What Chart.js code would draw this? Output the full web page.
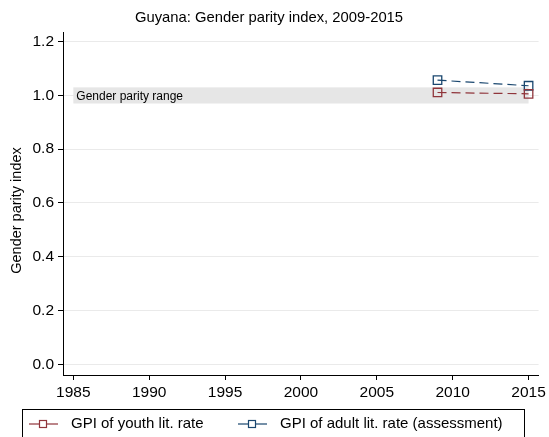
<!DOCTYPE html>
<html>
<head>
<meta charset="utf-8">
<script src="https://cdn.jsdelivr.net/npm/chart.js@4/dist/chart.umd.min.js"></script>
<style>
html,body{margin:0;padding:0;background:#fff;}
#wrap{width:549px;height:437px;position:relative;}
</style>
</head>
<body>
<div id="wrap"><canvas id="c" width="549" height="437"></canvas></div>
<script>
const chartTitle = "Guyana: Gender parity index, 2009-2015";
const yAxisTitle = "Gender parity index";
const years = [2009, 2015];
const youthGPI = [1.011, 1.006];
const adultGPI = [1.057, 1.036];
const seriesNames = ["GPI of youth lit. rate", "GPI of adult lit. rate (assessment)"];
const seriesColors = ["#90353b", "#1a476f"];
const yTicks = [0.0, 0.2, 0.4, 0.6, 0.8, 1.0, 1.2];
const xTicks = [1985, 1990, 1995, 2000, 2005, 2010, 2015];
const parityBand = {from: 1985, to: 2015, low: 0.97, high: 1.03, label: "Gender parity range"};

const FONT = "'Liberation Sans', Arial, sans-serif";

const decor = {
  id: 'decor',
  beforeDatasetsDraw(chart) {
    const {ctx, scales: {x, y}} = chart;
    ctx.save();
    const x0 = x.getPixelForValue(parityBand.from), x1 = x.getPixelForValue(parityBand.to);
    const y0 = y.getPixelForValue(parityBand.high), y1 = y.getPixelForValue(parityBand.low);
    ctx.fillStyle = '#e6e6e6';
    ctx.fillRect(x0, y0, x1 - x0, y1 - y0);
    ctx.fillStyle = '#000';
    ctx.font = "12px " + FONT;
    ctx.textBaseline = 'middle';
    ctx.textAlign = 'left';
    ctx.fillText(parityBand.label, x0 + 3, (y0 + y1) / 2 + 1);
    ctx.restore();
  },
  afterDraw(chart) {
    const {ctx, chartArea} = chart;
    ctx.save();
    ctx.fillStyle = '#000';
    ctx.font = "14.8px " + FONT;
    ctx.textAlign = 'center';
    ctx.textBaseline = 'middle';
    ctx.fillText(chartTitle, 269, 18);
    // y axis title
    ctx.save();
    ctx.font = "14.5px " + FONT;
    ctx.translate(17, (chartArea.top + chartArea.bottom) / 2 + 7);
    ctx.rotate(-Math.PI / 2);
    ctx.fillText(yAxisTitle, 0, 0);
    ctx.restore();
    // legend
    ctx.strokeStyle = '#000';
    ctx.lineWidth = 1;
    ctx.strokeRect(22.5, 409.5, 502, 40);
    const items = [{x: 29, tx: 71}, {x: 238, tx: 280}];
    const ly = 424;
    items.forEach((it, i) => {
      ctx.strokeStyle = seriesColors[i];
      ctx.lineWidth = 1.2;
      ctx.beginPath();
      ctx.moveTo(it.x, ly); ctx.lineTo(it.x + 29, ly);
      ctx.stroke();
      ctx.fillStyle = '#fff';
      ctx.fillRect(it.x + 10, ly - 4, 8, 8);
      ctx.strokeRect(it.x + 10.5, ly - 3.5, 7, 7);
      ctx.fillStyle = '#000';
      ctx.font = "15px " + FONT;
      ctx.textAlign = 'left';
      ctx.fillText(seriesNames[i], it.tx, ly);
    });
    ctx.restore();
  }
};

function mk(vals) { return years.map((yr, i) => ({x: yr, y: vals[i]})); }

new Chart(document.getElementById('c'), {
  type: 'line',
  data: {
    datasets: [
      {label: seriesNames[0], data: mk(youthGPI), borderColor: seriesColors[0], backgroundColor: 'rgba(0,0,0,0)',
       borderWidth: 1.2, borderDash: [9, 5], pointStyle: 'rect', pointRadius: 6, pointBorderWidth: 1.3,
       pointBorderColor: seriesColors[0], pointBackgroundColor: 'rgba(0,0,0,0)', tension: 0},
      {label: seriesNames[1], data: mk(adultGPI), borderColor: seriesColors[1], backgroundColor: 'rgba(0,0,0,0)',
       borderWidth: 1.2, borderDash: [9, 5], pointStyle: 'rect', pointRadius: 6, pointBorderWidth: 1.3,
       pointBorderColor: seriesColors[1], pointBackgroundColor: 'rgba(0,0,0,0)', tension: 0}
    ]
  },
  options: {
    responsive: false,
    animation: false,
    layout: {padding: {left: 0, right: 9, top: 32, bottom: 0}},
    plugins: {legend: {display: false}, title: {display: false}, tooltip: {enabled: false}},
    scales: {
      x: {
        type: 'linear', min: 1984.32, max: 2015.66,
        afterBuildTicks(s) { s.ticks = xTicks.map(v => ({value: v})); },
        afterFit(s) { s.height = 62; },
        grid: {drawOnChartArea: false, tickLength: 5, tickColor: '#000', tickWidth: 1},
        border: {color: '#000', width: 1},
        ticks: {color: '#000', font: {family: FONT, size: 15.5}, padding: 3, maxRotation: 0, autoSkip: false,
                callback: v => String(v)}
      },
      y: {
        min: -0.04, max: 1.236,
        afterBuildTicks(s) { s.ticks = yTicks.map(v => ({value: v})); },
        afterFit(s) { s.width = 63; },
        grid: {color: '#eaeaea', lineWidth: 1, tickLength: 5, tickColor: '#000', tickWidth: 1},
        border: {color: '#000', width: 1},
        ticks: {color: '#000', font: {family: FONT, size: 15.5}, padding: 4, autoSkip: false,
                callback: v => Number(v).toFixed(1)}
      }
    }
  },
  plugins: [decor]
});
</script>
</body>
</html>
